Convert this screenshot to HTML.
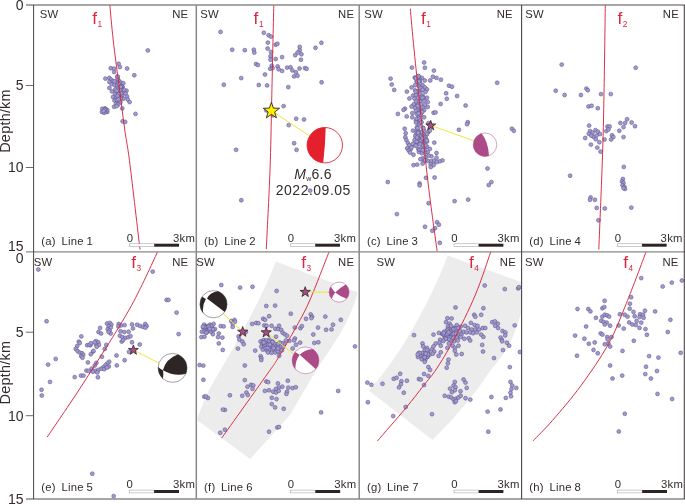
<!DOCTYPE html>
<html><head><meta charset="utf-8"><title>Seismic profiles</title>
<style>html,body{margin:0;padding:0;background:#fff}svg{display:block}</style></head>
<body>
<svg width="685" height="504" viewBox="0 0 685 504" font-family="'Liberation Sans', sans-serif">
<rect width="685" height="504" fill="#fff"/>
<defs>
<clipPath id="cp00"><rect x="33.6" y="5.0" width="162.70000000000002" height="246.95"/></clipPath>
<clipPath id="cp01"><rect x="196.3" y="5.0" width="162.89999999999998" height="246.95"/></clipPath>
<clipPath id="cp02"><rect x="359.2" y="5.0" width="162.40000000000003" height="246.95"/></clipPath>
<clipPath id="cp03"><rect x="521.6" y="5.0" width="162.69999999999993" height="246.95"/></clipPath>
<clipPath id="cp10"><rect x="33.6" y="251.95" width="162.70000000000002" height="247.05"/></clipPath>
<clipPath id="cp11"><rect x="196.3" y="251.95" width="162.89999999999998" height="247.05"/></clipPath>
<clipPath id="cp12"><rect x="359.2" y="251.95" width="162.40000000000003" height="247.05"/></clipPath>
<clipPath id="cp13"><rect x="521.6" y="251.95" width="162.69999999999993" height="247.05"/></clipPath>
</defs>
<path clip-path="url(#cp11)" d="M275.7,261.5 L357.8,292.2 Q352,314 340,334 Q330,350 317.5,368 L290,415 L250.2,459 L197,420 Q203,402 209,390 Q218,374 227,359 Q246,326 260,297.5 Q269,280 275.7,261.5 Z" fill="#ececec"/>
<path clip-path="url(#cp12)" d="M447.6,255.6 L525,283.5 L525,300 Q518,325 510,343.5 Q500,360 491.5,369 Q468,405 432.5,440.1 L369.1,390.8 Q395,360 410,333.2 Q422,313 430.6,295 Q441,274 447.6,255.6 Z" fill="#ececec"/>
<g fill="#a39ad2" stroke="#5a5384" stroke-width="0.55">
<circle cx="147.8" cy="50.4" r="1.95"/>
<circle cx="118.6" cy="63.8" r="1.95"/>
<circle cx="119.9" cy="67.0" r="1.95"/>
<circle cx="127.1" cy="68.5" r="1.95"/>
<circle cx="110.8" cy="68.2" r="1.95"/>
<circle cx="114.1" cy="68.6" r="1.95"/>
<circle cx="114.1" cy="72.0" r="1.95"/>
<circle cx="134.3" cy="75.2" r="1.95"/>
<circle cx="105.4" cy="78.6" r="1.95"/>
<circle cx="109.4" cy="77.9" r="1.95"/>
<circle cx="111.1" cy="79.6" r="1.95"/>
<circle cx="109.4" cy="81.9" r="1.95"/>
<circle cx="113.0" cy="81.1" r="1.95"/>
<circle cx="115.2" cy="81.9" r="1.95"/>
<circle cx="118.6" cy="80.4" r="1.95"/>
<circle cx="121.1" cy="82.6" r="1.95"/>
<circle cx="123.3" cy="83.3" r="1.95"/>
<circle cx="111.6" cy="84.1" r="1.95"/>
<circle cx="114.5" cy="84.8" r="1.95"/>
<circle cx="117.4" cy="85.5" r="1.95"/>
<circle cx="120.4" cy="86.3" r="1.95"/>
<circle cx="109.4" cy="88.0" r="1.95"/>
<circle cx="116.7" cy="88.5" r="1.95"/>
<circle cx="121.9" cy="89.2" r="1.95"/>
<circle cx="126.5" cy="90.7" r="1.95"/>
<circle cx="112.0" cy="91.4" r="1.95"/>
<circle cx="116.7" cy="91.7" r="1.95"/>
<circle cx="119.6" cy="92.1" r="1.95"/>
<circle cx="123.3" cy="92.9" r="1.95"/>
<circle cx="125.5" cy="93.6" r="1.95"/>
<circle cx="115.2" cy="94.3" r="1.95"/>
<circle cx="118.2" cy="95.1" r="1.95"/>
<circle cx="121.9" cy="95.8" r="1.95"/>
<circle cx="127.0" cy="96.5" r="1.95"/>
<circle cx="113.0" cy="97.0" r="1.95"/>
<circle cx="116.0" cy="98.0" r="1.95"/>
<circle cx="119.6" cy="98.7" r="1.95"/>
<circle cx="123.3" cy="98.7" r="1.95"/>
<circle cx="127.7" cy="99.5" r="1.95"/>
<circle cx="114.5" cy="100.5" r="1.95"/>
<circle cx="117.4" cy="101.7" r="1.95"/>
<circle cx="120.4" cy="102.4" r="1.95"/>
<circle cx="129.6" cy="102.1" r="1.95"/>
<circle cx="116.0" cy="103.9" r="1.95"/>
<circle cx="118.2" cy="104.6" r="1.95"/>
<circle cx="114.1" cy="106.8" r="1.95"/>
<circle cx="116.7" cy="106.1" r="1.95"/>
<circle cx="118.9" cy="84.1" r="1.95"/>
<circle cx="122.6" cy="87.0" r="1.95"/>
<circle cx="124.1" cy="89.9" r="1.95"/>
<circle cx="121.1" cy="93.2" r="1.95"/>
<circle cx="118.9" cy="97.0" r="1.95"/>
<circle cx="116.7" cy="99.9" r="1.95"/>
<circle cx="105.0" cy="108.4" r="1.95"/>
<circle cx="103.5" cy="109.8" r="1.95"/>
<circle cx="106.4" cy="109.8" r="1.95"/>
<circle cx="102.0" cy="112.0" r="1.95"/>
<circle cx="104.2" cy="112.8" r="1.95"/>
<circle cx="107.2" cy="112.0" r="1.95"/>
<circle cx="105.7" cy="111.3" r="1.95"/>
<circle cx="122.3" cy="108.4" r="1.95"/>
<circle cx="135.5" cy="113.9" r="1.95"/>
<circle cx="122.6" cy="121.3" r="1.95"/>
<circle cx="125.2" cy="121.9" r="1.95"/>
<circle cx="220.5" cy="31.9" r="1.95"/>
<circle cx="232.2" cy="49.7" r="1.95"/>
<circle cx="244.8" cy="50.2" r="1.95"/>
<circle cx="253.8" cy="49.7" r="1.95"/>
<circle cx="254.3" cy="52.6" r="1.95"/>
<circle cx="263.8" cy="32.8" r="1.95"/>
<circle cx="268.6" cy="35.2" r="1.95"/>
<circle cx="271.0" cy="36.6" r="1.95"/>
<circle cx="267.9" cy="42.6" r="1.95"/>
<circle cx="275.7" cy="44.7" r="1.95"/>
<circle cx="277.4" cy="43.8" r="1.95"/>
<circle cx="267.6" cy="48.5" r="1.95"/>
<circle cx="271.0" cy="51.9" r="1.95"/>
<circle cx="270.5" cy="56.2" r="1.95"/>
<circle cx="270.5" cy="59.7" r="1.95"/>
<circle cx="275.7" cy="59.0" r="1.95"/>
<circle cx="282.1" cy="57.1" r="1.95"/>
<circle cx="256.0" cy="64.0" r="1.95"/>
<circle cx="257.9" cy="65.0" r="1.95"/>
<circle cx="271.7" cy="65.7" r="1.95"/>
<circle cx="270.2" cy="68.8" r="1.95"/>
<circle cx="272.6" cy="68.1" r="1.95"/>
<circle cx="277.6" cy="66.4" r="1.95"/>
<circle cx="278.6" cy="69.2" r="1.95"/>
<circle cx="282.1" cy="70.9" r="1.95"/>
<circle cx="287.1" cy="67.6" r="1.95"/>
<circle cx="290.5" cy="67.3" r="1.95"/>
<circle cx="292.4" cy="70.4" r="1.95"/>
<circle cx="295.9" cy="72.3" r="1.95"/>
<circle cx="299.5" cy="68.5" r="1.95"/>
<circle cx="305.0" cy="68.1" r="1.95"/>
<circle cx="306.6" cy="68.8" r="1.95"/>
<circle cx="265.0" cy="74.5" r="1.95"/>
<circle cx="294.0" cy="76.4" r="1.95"/>
<circle cx="297.6" cy="75.7" r="1.95"/>
<circle cx="241.2" cy="78.1" r="1.95"/>
<circle cx="223.8" cy="84.7" r="1.95"/>
<circle cx="258.8" cy="85.0" r="1.95"/>
<circle cx="267.1" cy="85.4" r="1.95"/>
<circle cx="288.3" cy="87.1" r="1.95"/>
<circle cx="321.6" cy="82.3" r="1.95"/>
<circle cx="321.4" cy="42.8" r="1.95"/>
<circle cx="315.5" cy="47.8" r="1.95"/>
<circle cx="299.7" cy="46.9" r="1.95"/>
<circle cx="299.7" cy="50.2" r="1.95"/>
<circle cx="297.6" cy="52.6" r="1.95"/>
<circle cx="295.2" cy="55.2" r="1.95"/>
<circle cx="301.4" cy="54.3" r="1.95"/>
<circle cx="300.9" cy="59.7" r="1.95"/>
<circle cx="283.6" cy="106.1" r="1.95"/>
<circle cx="266.4" cy="110.4" r="1.95"/>
<circle cx="296.2" cy="118.7" r="1.95"/>
<circle cx="304.0" cy="119.5" r="1.95"/>
<circle cx="288.7" cy="125.1" r="1.95"/>
<circle cx="294.1" cy="143.2" r="1.95"/>
<circle cx="296.5" cy="149.8" r="1.95"/>
<circle cx="236.1" cy="149.8" r="1.95"/>
<circle cx="241.3" cy="200.2" r="1.95"/>
<circle cx="310.1" cy="190.6" r="1.95"/>
<circle cx="273.1" cy="115.3" r="1.95"/>
<circle cx="424.1" cy="62.5" r="1.95"/>
<circle cx="411.9" cy="67.6" r="1.95"/>
<circle cx="424.9" cy="67.8" r="1.95"/>
<circle cx="433.9" cy="70.6" r="1.95"/>
<circle cx="390.6" cy="78.6" r="1.95"/>
<circle cx="391.7" cy="84.5" r="1.95"/>
<circle cx="394.2" cy="89.9" r="1.95"/>
<circle cx="414.8" cy="77.6" r="1.95"/>
<circle cx="418.5" cy="76.1" r="1.95"/>
<circle cx="421.9" cy="77.9" r="1.95"/>
<circle cx="419.6" cy="79.4" r="1.95"/>
<circle cx="424.8" cy="80.5" r="1.95"/>
<circle cx="430.2" cy="80.5" r="1.95"/>
<circle cx="432.9" cy="76.7" r="1.95"/>
<circle cx="436.5" cy="77.9" r="1.95"/>
<circle cx="440.9" cy="79.7" r="1.95"/>
<circle cx="416.7" cy="81.6" r="1.95"/>
<circle cx="419.9" cy="83.0" r="1.95"/>
<circle cx="415.2" cy="85.2" r="1.95"/>
<circle cx="418.9" cy="86.0" r="1.95"/>
<circle cx="422.6" cy="85.2" r="1.95"/>
<circle cx="424.8" cy="87.4" r="1.95"/>
<circle cx="411.6" cy="87.4" r="1.95"/>
<circle cx="406.9" cy="91.6" r="1.95"/>
<circle cx="427.0" cy="89.4" r="1.95"/>
<circle cx="415.2" cy="90.4" r="1.95"/>
<circle cx="418.5" cy="91.1" r="1.95"/>
<circle cx="421.9" cy="90.4" r="1.95"/>
<circle cx="425.5" cy="91.9" r="1.95"/>
<circle cx="449.0" cy="85.7" r="1.95"/>
<circle cx="452.0" cy="86.7" r="1.95"/>
<circle cx="446.1" cy="93.3" r="1.95"/>
<circle cx="457.1" cy="96.0" r="1.95"/>
<circle cx="446.8" cy="98.8" r="1.95"/>
<circle cx="440.6" cy="104.0" r="1.95"/>
<circle cx="465.6" cy="105.5" r="1.95"/>
<circle cx="413.0" cy="95.5" r="1.95"/>
<circle cx="416.0" cy="94.8" r="1.95"/>
<circle cx="419.6" cy="94.1" r="1.95"/>
<circle cx="422.6" cy="95.5" r="1.95"/>
<circle cx="409.4" cy="98.5" r="1.95"/>
<circle cx="414.5" cy="98.5" r="1.95"/>
<circle cx="418.2" cy="97.7" r="1.95"/>
<circle cx="421.9" cy="98.5" r="1.95"/>
<circle cx="427.0" cy="97.7" r="1.95"/>
<circle cx="416.0" cy="101.4" r="1.95"/>
<circle cx="419.6" cy="101.4" r="1.95"/>
<circle cx="424.1" cy="100.7" r="1.95"/>
<circle cx="427.7" cy="102.1" r="1.95"/>
<circle cx="413.8" cy="104.3" r="1.95"/>
<circle cx="417.4" cy="105.1" r="1.95"/>
<circle cx="421.1" cy="104.3" r="1.95"/>
<circle cx="424.8" cy="105.1" r="1.95"/>
<circle cx="411.6" cy="106.5" r="1.95"/>
<circle cx="415.2" cy="108.0" r="1.95"/>
<circle cx="418.9" cy="107.3" r="1.95"/>
<circle cx="423.3" cy="108.0" r="1.95"/>
<circle cx="427.7" cy="107.0" r="1.95"/>
<circle cx="405.0" cy="108.7" r="1.95"/>
<circle cx="403.5" cy="109.9" r="1.95"/>
<circle cx="416.0" cy="110.9" r="1.95"/>
<circle cx="419.6" cy="110.9" r="1.95"/>
<circle cx="424.1" cy="110.2" r="1.95"/>
<circle cx="397.9" cy="113.9" r="1.95"/>
<circle cx="412.3" cy="113.1" r="1.95"/>
<circle cx="416.7" cy="113.9" r="1.95"/>
<circle cx="421.1" cy="113.1" r="1.95"/>
<circle cx="433.6" cy="112.8" r="1.95"/>
<circle cx="435.5" cy="112.4" r="1.95"/>
<circle cx="406.7" cy="116.4" r="1.95"/>
<circle cx="412.3" cy="117.3" r="1.95"/>
<circle cx="418.2" cy="117.5" r="1.95"/>
<circle cx="424.1" cy="117.3" r="1.95"/>
<circle cx="416.0" cy="120.5" r="1.95"/>
<circle cx="419.6" cy="121.2" r="1.95"/>
<circle cx="467.8" cy="122.2" r="1.95"/>
<circle cx="428.5" cy="123.1" r="1.95"/>
<circle cx="467.1" cy="124.2" r="1.95"/>
<circle cx="458.9" cy="129.8" r="1.95"/>
<circle cx="404.7" cy="128.8" r="1.95"/>
<circle cx="405.7" cy="133.2" r="1.95"/>
<circle cx="405.3" cy="137.2" r="1.95"/>
<circle cx="406.4" cy="140.1" r="1.95"/>
<circle cx="407.9" cy="143.0" r="1.95"/>
<circle cx="409.4" cy="145.2" r="1.95"/>
<circle cx="407.2" cy="148.2" r="1.95"/>
<circle cx="408.6" cy="150.4" r="1.95"/>
<circle cx="410.8" cy="148.9" r="1.95"/>
<circle cx="410.1" cy="152.6" r="1.95"/>
<circle cx="413.5" cy="154.8" r="1.95"/>
<circle cx="413.0" cy="130.6" r="1.95"/>
<circle cx="416.0" cy="134.2" r="1.95"/>
<circle cx="414.5" cy="140.1" r="1.95"/>
<circle cx="415.2" cy="145.2" r="1.95"/>
<circle cx="411.6" cy="147.4" r="1.95"/>
<circle cx="416.7" cy="118.8" r="1.95"/>
<circle cx="416.0" cy="122.5" r="1.95"/>
<circle cx="418.9" cy="124.7" r="1.95"/>
<circle cx="417.4" cy="129.1" r="1.95"/>
<circle cx="419.6" cy="132.0" r="1.95"/>
<circle cx="421.1" cy="136.4" r="1.95"/>
<circle cx="418.9" cy="138.6" r="1.95"/>
<circle cx="421.9" cy="140.1" r="1.95"/>
<circle cx="418.9" cy="143.8" r="1.95"/>
<circle cx="421.9" cy="144.5" r="1.95"/>
<circle cx="418.2" cy="148.9" r="1.95"/>
<circle cx="421.1" cy="149.6" r="1.95"/>
<circle cx="424.1" cy="148.2" r="1.95"/>
<circle cx="427.0" cy="146.7" r="1.95"/>
<circle cx="429.9" cy="148.9" r="1.95"/>
<circle cx="427.7" cy="151.9" r="1.95"/>
<circle cx="424.8" cy="152.6" r="1.95"/>
<circle cx="421.9" cy="153.3" r="1.95"/>
<circle cx="418.9" cy="151.9" r="1.95"/>
<circle cx="428.5" cy="132.0" r="1.95"/>
<circle cx="429.9" cy="130.6" r="1.95"/>
<circle cx="427.0" cy="134.2" r="1.95"/>
<circle cx="425.5" cy="137.2" r="1.95"/>
<circle cx="424.1" cy="141.6" r="1.95"/>
<circle cx="427.0" cy="141.6" r="1.95"/>
<circle cx="434.3" cy="142.6" r="1.95"/>
<circle cx="436.5" cy="153.0" r="1.95"/>
<circle cx="431.4" cy="156.3" r="1.95"/>
<circle cx="428.5" cy="155.5" r="1.95"/>
<circle cx="425.5" cy="157.0" r="1.95"/>
<circle cx="422.6" cy="158.5" r="1.95"/>
<circle cx="420.4" cy="159.2" r="1.95"/>
<circle cx="436.5" cy="157.7" r="1.95"/>
<circle cx="442.4" cy="160.4" r="1.95"/>
<circle cx="439.5" cy="161.4" r="1.95"/>
<circle cx="436.5" cy="162.1" r="1.95"/>
<circle cx="433.6" cy="160.7" r="1.95"/>
<circle cx="430.7" cy="161.4" r="1.95"/>
<circle cx="427.7" cy="160.7" r="1.95"/>
<circle cx="424.1" cy="161.4" r="1.95"/>
<circle cx="422.6" cy="163.6" r="1.95"/>
<circle cx="430.7" cy="164.3" r="1.95"/>
<circle cx="433.6" cy="165.1" r="1.95"/>
<circle cx="430.7" cy="167.0" r="1.95"/>
<circle cx="413.5" cy="165.1" r="1.95"/>
<circle cx="417.2" cy="164.6" r="1.95"/>
<circle cx="426.0" cy="177.8" r="1.95"/>
<circle cx="434.6" cy="177.5" r="1.95"/>
<circle cx="387.8" cy="182.0" r="1.95"/>
<circle cx="419.6" cy="183.4" r="1.95"/>
<circle cx="422.6" cy="127.6" r="1.95"/>
<circle cx="424.1" cy="130.6" r="1.95"/>
<circle cx="423.3" cy="134.2" r="1.95"/>
<circle cx="424.1" cy="137.9" r="1.95"/>
<circle cx="425.5" cy="145.2" r="1.95"/>
<circle cx="416.7" cy="141.6" r="1.95"/>
<circle cx="413.0" cy="143.8" r="1.95"/>
<circle cx="419.6" cy="185.4" r="1.95"/>
<circle cx="454.6" cy="201.1" r="1.95"/>
<circle cx="468.2" cy="199.6" r="1.95"/>
<circle cx="428.6" cy="203.2" r="1.95"/>
<circle cx="396.9" cy="214.1" r="1.95"/>
<circle cx="425.0" cy="226.8" r="1.95"/>
<circle cx="437.1" cy="222.2" r="1.95"/>
<circle cx="438.9" cy="224.7" r="1.95"/>
<circle cx="435.0" cy="228.3" r="1.95"/>
<circle cx="432.3" cy="230.7" r="1.95"/>
<circle cx="439.8" cy="242.8" r="1.95"/>
<circle cx="487.5" cy="168.5" r="1.95"/>
<circle cx="491.4" cy="182.1" r="1.95"/>
<circle cx="488.7" cy="185.1" r="1.95"/>
<circle cx="511.9" cy="128.7" r="1.95"/>
<circle cx="513.8" cy="130.8" r="1.95"/>
<circle cx="419.3" cy="149.8" r="1.95"/>
<circle cx="416.9" cy="127.2" r="1.95"/>
<circle cx="419.9" cy="122.6" r="1.95"/>
<circle cx="415.3" cy="136.2" r="1.95"/>
<circle cx="497.2" cy="82.8" r="1.95"/>
<circle cx="561.7" cy="64.6" r="1.95"/>
<circle cx="635.7" cy="67.7" r="1.95"/>
<circle cx="555.7" cy="90.7" r="1.95"/>
<circle cx="564.6" cy="95.0" r="1.95"/>
<circle cx="580.9" cy="95.0" r="1.95"/>
<circle cx="586.4" cy="88.6" r="1.95"/>
<circle cx="587.8" cy="90.2" r="1.95"/>
<circle cx="601.0" cy="94.1" r="1.95"/>
<circle cx="610.8" cy="94.1" r="1.95"/>
<circle cx="588.5" cy="106.5" r="1.95"/>
<circle cx="591.6" cy="105.8" r="1.95"/>
<circle cx="597.8" cy="108.2" r="1.95"/>
<circle cx="627.1" cy="119.2" r="1.95"/>
<circle cx="620.4" cy="123.0" r="1.95"/>
<circle cx="625.1" cy="123.0" r="1.95"/>
<circle cx="631.6" cy="122.5" r="1.95"/>
<circle cx="589.1" cy="125.6" r="1.95"/>
<circle cx="590.0" cy="131.1" r="1.95"/>
<circle cx="588.8" cy="133.8" r="1.95"/>
<circle cx="592.5" cy="132.6" r="1.95"/>
<circle cx="595.5" cy="130.1" r="1.95"/>
<circle cx="597.9" cy="131.7" r="1.95"/>
<circle cx="600.0" cy="134.1" r="1.95"/>
<circle cx="596.4" cy="135.6" r="1.95"/>
<circle cx="593.4" cy="136.8" r="1.95"/>
<circle cx="591.2" cy="135.6" r="1.95"/>
<circle cx="585.2" cy="138.0" r="1.95"/>
<circle cx="595.8" cy="139.2" r="1.95"/>
<circle cx="599.4" cy="142.2" r="1.95"/>
<circle cx="590.9" cy="144.6" r="1.95"/>
<circle cx="597.3" cy="147.6" r="1.95"/>
<circle cx="600.6" cy="151.6" r="1.95"/>
<circle cx="604.5" cy="139.5" r="1.95"/>
<circle cx="606.3" cy="131.1" r="1.95"/>
<circle cx="607.5" cy="126.5" r="1.95"/>
<circle cx="609.6" cy="126.5" r="1.95"/>
<circle cx="608.4" cy="129.5" r="1.95"/>
<circle cx="612.0" cy="135.3" r="1.95"/>
<circle cx="613.3" cy="137.1" r="1.95"/>
<circle cx="611.1" cy="139.5" r="1.95"/>
<circle cx="635.0" cy="126.2" r="1.95"/>
<circle cx="623.5" cy="127.1" r="1.95"/>
<circle cx="619.3" cy="130.8" r="1.95"/>
<circle cx="623.5" cy="137.1" r="1.95"/>
<circle cx="623.8" cy="166.9" r="1.95"/>
<circle cx="570.1" cy="175.7" r="1.95"/>
<circle cx="622.9" cy="179.0" r="1.95"/>
<circle cx="622.0" cy="181.4" r="1.95"/>
<circle cx="623.5" cy="182.9" r="1.95"/>
<circle cx="622.6" cy="185.3" r="1.95"/>
<circle cx="624.4" cy="186.8" r="1.95"/>
<circle cx="625.0" cy="188.9" r="1.95"/>
<circle cx="623.5" cy="188.0" r="1.95"/>
<circle cx="590.6" cy="197.4" r="1.95"/>
<circle cx="590.0" cy="199.8" r="1.95"/>
<circle cx="594.9" cy="199.8" r="1.95"/>
<circle cx="596.7" cy="207.9" r="1.95"/>
<circle cx="604.8" cy="208.5" r="1.95"/>
<circle cx="631.3" cy="207.6" r="1.95"/>
<circle cx="598.5" cy="220.3" r="1.95"/>
<circle cx="107.0" cy="323.5" r="1.95"/>
<circle cx="109.9" cy="322.9" r="1.95"/>
<circle cx="111.4" cy="324.7" r="1.95"/>
<circle cx="108.8" cy="326.2" r="1.95"/>
<circle cx="110.7" cy="327.6" r="1.95"/>
<circle cx="107.7" cy="329.1" r="1.95"/>
<circle cx="109.6" cy="330.6" r="1.95"/>
<circle cx="110.7" cy="333.5" r="1.95"/>
<circle cx="108.5" cy="332.0" r="1.95"/>
<circle cx="100.1" cy="327.9" r="1.95"/>
<circle cx="98.5" cy="332.0" r="1.95"/>
<circle cx="101.1" cy="333.5" r="1.95"/>
<circle cx="118.7" cy="324.0" r="1.95"/>
<circle cx="120.9" cy="325.4" r="1.95"/>
<circle cx="124.6" cy="325.1" r="1.95"/>
<circle cx="118.4" cy="326.4" r="1.95"/>
<circle cx="120.5" cy="331.3" r="1.95"/>
<circle cx="124.3" cy="332.0" r="1.95"/>
<circle cx="128.6" cy="331.7" r="1.95"/>
<circle cx="119.8" cy="335.7" r="1.95"/>
<circle cx="122.4" cy="337.2" r="1.95"/>
<circle cx="125.3" cy="337.9" r="1.95"/>
<circle cx="128.3" cy="337.2" r="1.95"/>
<circle cx="130.5" cy="336.1" r="1.95"/>
<circle cx="121.7" cy="341.6" r="1.95"/>
<circle cx="123.1" cy="340.1" r="1.95"/>
<circle cx="132.0" cy="324.4" r="1.95"/>
<circle cx="133.0" cy="328.4" r="1.95"/>
<circle cx="137.1" cy="324.7" r="1.95"/>
<circle cx="140.0" cy="325.9" r="1.95"/>
<circle cx="143.0" cy="326.9" r="1.95"/>
<circle cx="145.2" cy="324.0" r="1.95"/>
<circle cx="146.6" cy="325.9" r="1.95"/>
<circle cx="145.5" cy="327.6" r="1.95"/>
<circle cx="132.0" cy="342.3" r="1.95"/>
<circle cx="139.7" cy="344.5" r="1.95"/>
<circle cx="129.0" cy="351.9" r="1.95"/>
<circle cx="81.3" cy="336.4" r="1.95"/>
<circle cx="78.8" cy="341.6" r="1.95"/>
<circle cx="79.8" cy="343.0" r="1.95"/>
<circle cx="77.2" cy="346.0" r="1.95"/>
<circle cx="75.7" cy="348.9" r="1.95"/>
<circle cx="77.6" cy="351.1" r="1.95"/>
<circle cx="79.8" cy="352.6" r="1.95"/>
<circle cx="82.0" cy="353.3" r="1.95"/>
<circle cx="83.2" cy="354.8" r="1.95"/>
<circle cx="81.3" cy="356.3" r="1.95"/>
<circle cx="82.5" cy="357.7" r="1.95"/>
<circle cx="87.2" cy="345.2" r="1.95"/>
<circle cx="90.4" cy="345.2" r="1.95"/>
<circle cx="96.0" cy="341.1" r="1.95"/>
<circle cx="98.2" cy="342.3" r="1.95"/>
<circle cx="96.0" cy="344.5" r="1.95"/>
<circle cx="98.9" cy="344.9" r="1.95"/>
<circle cx="96.7" cy="346.7" r="1.95"/>
<circle cx="106.3" cy="344.9" r="1.95"/>
<circle cx="104.8" cy="348.9" r="1.95"/>
<circle cx="93.0" cy="351.6" r="1.95"/>
<circle cx="90.8" cy="354.3" r="1.95"/>
<circle cx="101.9" cy="356.7" r="1.95"/>
<circle cx="116.5" cy="355.5" r="1.95"/>
<circle cx="124.6" cy="360.2" r="1.95"/>
<circle cx="87.9" cy="362.4" r="1.95"/>
<circle cx="96.4" cy="362.9" r="1.95"/>
<circle cx="94.8" cy="365.5" r="1.95"/>
<circle cx="109.2" cy="361.7" r="1.95"/>
<circle cx="107.3" cy="363.6" r="1.95"/>
<circle cx="105.5" cy="365.1" r="1.95"/>
<circle cx="108.8" cy="366.5" r="1.95"/>
<circle cx="103.3" cy="367.3" r="1.95"/>
<circle cx="101.1" cy="368.7" r="1.95"/>
<circle cx="104.1" cy="369.2" r="1.95"/>
<circle cx="98.2" cy="369.9" r="1.95"/>
<circle cx="95.2" cy="370.9" r="1.95"/>
<circle cx="91.6" cy="368.7" r="1.95"/>
<circle cx="86.4" cy="370.6" r="1.95"/>
<circle cx="88.6" cy="370.9" r="1.95"/>
<circle cx="93.0" cy="371.7" r="1.95"/>
<circle cx="97.4" cy="372.4" r="1.95"/>
<circle cx="81.0" cy="375.6" r="1.95"/>
<circle cx="83.5" cy="375.6" r="1.95"/>
<circle cx="74.7" cy="377.1" r="1.95"/>
<circle cx="97.9" cy="377.3" r="1.95"/>
<circle cx="116.8" cy="365.4" r="1.95"/>
<circle cx="107.0" cy="367.6" r="1.95"/>
<circle cx="55.7" cy="358.9" r="1.95"/>
<circle cx="48.1" cy="364.6" r="1.95"/>
<circle cx="50.0" cy="381.9" r="1.95"/>
<circle cx="41.5" cy="389.8" r="1.95"/>
<circle cx="41.8" cy="395.5" r="1.95"/>
<circle cx="92.3" cy="473.7" r="1.95"/>
<circle cx="113.7" cy="496.1" r="1.95"/>
<circle cx="38.3" cy="269.5" r="1.95"/>
<circle cx="152.7" cy="271.6" r="1.95"/>
<circle cx="166.6" cy="299.9" r="1.95"/>
<circle cx="168.5" cy="299.9" r="1.95"/>
<circle cx="176.6" cy="312.6" r="1.95"/>
<circle cx="178.6" cy="334.1" r="1.95"/>
<circle cx="46.6" cy="321.2" r="1.95"/>
<circle cx="276.6" cy="290.9" r="1.95"/>
<circle cx="266.3" cy="306.0" r="1.95"/>
<circle cx="275.1" cy="305.6" r="1.95"/>
<circle cx="269.1" cy="316.2" r="1.95"/>
<circle cx="290.8" cy="313.7" r="1.95"/>
<circle cx="310.7" cy="314.4" r="1.95"/>
<circle cx="312.1" cy="316.6" r="1.95"/>
<circle cx="306.0" cy="318.8" r="1.95"/>
<circle cx="311.4" cy="318.1" r="1.95"/>
<circle cx="325.3" cy="316.6" r="1.95"/>
<circle cx="340.8" cy="319.8" r="1.95"/>
<circle cx="333.0" cy="324.7" r="1.95"/>
<circle cx="263.2" cy="318.8" r="1.95"/>
<circle cx="265.1" cy="319.8" r="1.95"/>
<circle cx="240.1" cy="287.6" r="1.95"/>
<circle cx="252.5" cy="286.8" r="1.95"/>
<circle cx="221.3" cy="285.0" r="1.95"/>
<circle cx="252.2" cy="323.9" r="1.95"/>
<circle cx="256.2" cy="322.9" r="1.95"/>
<circle cx="258.4" cy="323.2" r="1.95"/>
<circle cx="264.3" cy="325.4" r="1.95"/>
<circle cx="266.5" cy="325.8" r="1.95"/>
<circle cx="271.6" cy="325.8" r="1.95"/>
<circle cx="279.0" cy="325.8" r="1.95"/>
<circle cx="275.3" cy="328.8" r="1.95"/>
<circle cx="278.2" cy="329.1" r="1.95"/>
<circle cx="281.2" cy="329.8" r="1.95"/>
<circle cx="282.6" cy="332.7" r="1.95"/>
<circle cx="284.8" cy="334.2" r="1.95"/>
<circle cx="287.0" cy="335.7" r="1.95"/>
<circle cx="276.0" cy="336.7" r="1.95"/>
<circle cx="285.9" cy="340.5" r="1.95"/>
<circle cx="204.1" cy="324.6" r="1.95"/>
<circle cx="207.0" cy="326.1" r="1.95"/>
<circle cx="210.0" cy="324.6" r="1.95"/>
<circle cx="213.6" cy="323.9" r="1.95"/>
<circle cx="203.3" cy="327.6" r="1.95"/>
<circle cx="206.3" cy="329.1" r="1.95"/>
<circle cx="209.2" cy="328.3" r="1.95"/>
<circle cx="212.2" cy="327.6" r="1.95"/>
<circle cx="215.1" cy="329.1" r="1.95"/>
<circle cx="201.9" cy="331.7" r="1.95"/>
<circle cx="204.8" cy="331.7" r="1.95"/>
<circle cx="210.7" cy="331.3" r="1.95"/>
<circle cx="212.9" cy="334.2" r="1.95"/>
<circle cx="218.8" cy="333.5" r="1.95"/>
<circle cx="201.4" cy="337.1" r="1.95"/>
<circle cx="204.5" cy="336.7" r="1.95"/>
<circle cx="218.0" cy="337.1" r="1.95"/>
<circle cx="222.4" cy="337.6" r="1.95"/>
<circle cx="220.7" cy="326.1" r="1.95"/>
<circle cx="223.6" cy="326.4" r="1.95"/>
<circle cx="231.2" cy="321.0" r="1.95"/>
<circle cx="234.5" cy="319.9" r="1.95"/>
<circle cx="234.9" cy="321.7" r="1.95"/>
<circle cx="232.7" cy="323.9" r="1.95"/>
<circle cx="232.7" cy="326.9" r="1.95"/>
<circle cx="238.6" cy="336.4" r="1.95"/>
<circle cx="239.3" cy="339.6" r="1.95"/>
<circle cx="242.3" cy="341.5" r="1.95"/>
<circle cx="243.7" cy="344.2" r="1.95"/>
<circle cx="218.8" cy="343.4" r="1.95"/>
<circle cx="222.7" cy="349.9" r="1.95"/>
<circle cx="237.9" cy="348.6" r="1.95"/>
<circle cx="255.2" cy="350.6" r="1.95"/>
<circle cx="245.9" cy="332.0" r="1.95"/>
<circle cx="260.6" cy="341.5" r="1.95"/>
<circle cx="263.5" cy="340.1" r="1.95"/>
<circle cx="266.5" cy="340.8" r="1.95"/>
<circle cx="269.4" cy="339.6" r="1.95"/>
<circle cx="272.4" cy="341.5" r="1.95"/>
<circle cx="262.1" cy="343.7" r="1.95"/>
<circle cx="265.0" cy="343.0" r="1.95"/>
<circle cx="268.0" cy="343.7" r="1.95"/>
<circle cx="270.9" cy="344.5" r="1.95"/>
<circle cx="274.6" cy="343.7" r="1.95"/>
<circle cx="261.3" cy="346.7" r="1.95"/>
<circle cx="264.3" cy="345.9" r="1.95"/>
<circle cx="267.2" cy="346.7" r="1.95"/>
<circle cx="270.2" cy="347.4" r="1.95"/>
<circle cx="273.1" cy="346.7" r="1.95"/>
<circle cx="276.8" cy="345.9" r="1.95"/>
<circle cx="279.7" cy="345.2" r="1.95"/>
<circle cx="262.8" cy="349.6" r="1.95"/>
<circle cx="266.5" cy="350.3" r="1.95"/>
<circle cx="269.4" cy="349.6" r="1.95"/>
<circle cx="272.4" cy="350.3" r="1.95"/>
<circle cx="276.0" cy="349.6" r="1.95"/>
<circle cx="279.7" cy="348.9" r="1.95"/>
<circle cx="282.6" cy="347.4" r="1.95"/>
<circle cx="268.0" cy="352.5" r="1.95"/>
<circle cx="271.6" cy="352.8" r="1.95"/>
<circle cx="275.3" cy="352.5" r="1.95"/>
<circle cx="279.0" cy="351.8" r="1.95"/>
<circle cx="260.6" cy="356.2" r="1.95"/>
<circle cx="261.3" cy="358.1" r="1.95"/>
<circle cx="266.5" cy="342.3" r="1.95"/>
<circle cx="268.7" cy="341.5" r="1.95"/>
<circle cx="265.0" cy="344.5" r="1.95"/>
<circle cx="284.1" cy="343.7" r="1.95"/>
<circle cx="281.9" cy="350.3" r="1.95"/>
<circle cx="207.7" cy="327.6" r="1.95"/>
<circle cx="210.7" cy="329.1" r="1.95"/>
<circle cx="205.5" cy="326.9" r="1.95"/>
<circle cx="208.5" cy="330.5" r="1.95"/>
<circle cx="211.4" cy="326.1" r="1.95"/>
<circle cx="269.4" cy="345.2" r="1.95"/>
<circle cx="265.8" cy="348.1" r="1.95"/>
<circle cx="263.5" cy="342.3" r="1.95"/>
<circle cx="273.8" cy="348.1" r="1.95"/>
<circle cx="331.5" cy="329.4" r="1.95"/>
<circle cx="326.1" cy="329.8" r="1.95"/>
<circle cx="318.0" cy="327.6" r="1.95"/>
<circle cx="313.3" cy="334.5" r="1.95"/>
<circle cx="314.3" cy="342.9" r="1.95"/>
<circle cx="318.3" cy="342.3" r="1.95"/>
<circle cx="355.0" cy="346.4" r="1.95"/>
<circle cx="294.8" cy="327.6" r="1.95"/>
<circle cx="300.4" cy="328.2" r="1.95"/>
<circle cx="301.9" cy="326.1" r="1.95"/>
<circle cx="294.9" cy="338.5" r="1.95"/>
<circle cx="296.0" cy="344.8" r="1.95"/>
<circle cx="300.1" cy="342.6" r="1.95"/>
<circle cx="292.6" cy="348.5" r="1.95"/>
<circle cx="294.1" cy="340.4" r="1.95"/>
<circle cx="289.4" cy="340.8" r="1.95"/>
<circle cx="282.0" cy="343.3" r="1.95"/>
<circle cx="279.1" cy="355.8" r="1.95"/>
<circle cx="199.6" cy="365.0" r="1.95"/>
<circle cx="244.8" cy="365.5" r="1.95"/>
<circle cx="261.3" cy="360.0" r="1.95"/>
<circle cx="203.4" cy="379.8" r="1.95"/>
<circle cx="244.8" cy="380.1" r="1.95"/>
<circle cx="251.1" cy="384.8" r="1.95"/>
<circle cx="253.3" cy="385.4" r="1.95"/>
<circle cx="247.5" cy="386.7" r="1.95"/>
<circle cx="252.5" cy="388.9" r="1.95"/>
<circle cx="246.4" cy="392.5" r="1.95"/>
<circle cx="247.8" cy="395.0" r="1.95"/>
<circle cx="242.3" cy="395.8" r="1.95"/>
<circle cx="229.9" cy="395.3" r="1.95"/>
<circle cx="204.3" cy="396.7" r="1.95"/>
<circle cx="207.9" cy="398.0" r="1.95"/>
<circle cx="224.9" cy="409.9" r="1.95"/>
<circle cx="224.9" cy="429.7" r="1.95"/>
<circle cx="220.3" cy="432.8" r="1.95"/>
<circle cx="266.3" cy="381.5" r="1.95"/>
<circle cx="268.2" cy="382.1" r="1.95"/>
<circle cx="277.9" cy="383.4" r="1.95"/>
<circle cx="287.8" cy="380.7" r="1.95"/>
<circle cx="282.3" cy="386.7" r="1.95"/>
<circle cx="278.7" cy="387.6" r="1.95"/>
<circle cx="275.9" cy="388.9" r="1.95"/>
<circle cx="288.3" cy="387.6" r="1.95"/>
<circle cx="292.5" cy="388.1" r="1.95"/>
<circle cx="295.8" cy="387.3" r="1.95"/>
<circle cx="264.9" cy="390.9" r="1.95"/>
<circle cx="269.0" cy="390.3" r="1.95"/>
<circle cx="273.2" cy="391.7" r="1.95"/>
<circle cx="275.9" cy="392.5" r="1.95"/>
<circle cx="278.7" cy="390.9" r="1.95"/>
<circle cx="287.0" cy="391.7" r="1.95"/>
<circle cx="286.4" cy="393.9" r="1.95"/>
<circle cx="271.8" cy="397.8" r="1.95"/>
<circle cx="276.5" cy="399.1" r="1.95"/>
<circle cx="271.8" cy="404.1" r="1.95"/>
<circle cx="275.1" cy="407.4" r="1.95"/>
<circle cx="283.7" cy="408.8" r="1.95"/>
<circle cx="269.0" cy="431.7" r="1.95"/>
<circle cx="277.3" cy="427.5" r="1.95"/>
<circle cx="279.0" cy="427.0" r="1.95"/>
<circle cx="321.1" cy="412.4" r="1.95"/>
<circle cx="338.2" cy="390.9" r="1.95"/>
<circle cx="203.3" cy="365.6" r="1.95"/>
<circle cx="205.8" cy="396.4" r="1.95"/>
<circle cx="222.9" cy="409.6" r="1.95"/>
<circle cx="455.5" cy="307.5" r="1.95"/>
<circle cx="483.4" cy="308.2" r="1.95"/>
<circle cx="474.2" cy="314.8" r="1.95"/>
<circle cx="475.3" cy="316.7" r="1.95"/>
<circle cx="481.2" cy="314.8" r="1.95"/>
<circle cx="447.4" cy="318.2" r="1.95"/>
<circle cx="451.6" cy="318.5" r="1.95"/>
<circle cx="446.0" cy="322.2" r="1.95"/>
<circle cx="449.6" cy="323.6" r="1.95"/>
<circle cx="447.9" cy="326.6" r="1.95"/>
<circle cx="451.1" cy="325.8" r="1.95"/>
<circle cx="454.1" cy="328.0" r="1.95"/>
<circle cx="456.7" cy="325.1" r="1.95"/>
<circle cx="460.7" cy="326.6" r="1.95"/>
<circle cx="465.1" cy="325.8" r="1.95"/>
<circle cx="470.9" cy="322.9" r="1.95"/>
<circle cx="474.6" cy="325.1" r="1.95"/>
<circle cx="477.5" cy="325.8" r="1.95"/>
<circle cx="468.0" cy="328.0" r="1.95"/>
<circle cx="471.7" cy="329.5" r="1.95"/>
<circle cx="475.3" cy="329.5" r="1.95"/>
<circle cx="479.0" cy="329.5" r="1.95"/>
<circle cx="482.7" cy="328.0" r="1.95"/>
<circle cx="485.3" cy="328.0" r="1.95"/>
<circle cx="449.6" cy="329.5" r="1.95"/>
<circle cx="452.6" cy="330.2" r="1.95"/>
<circle cx="456.3" cy="331.0" r="1.95"/>
<circle cx="459.9" cy="331.0" r="1.95"/>
<circle cx="463.6" cy="331.7" r="1.95"/>
<circle cx="466.5" cy="332.4" r="1.95"/>
<circle cx="470.2" cy="332.4" r="1.95"/>
<circle cx="473.1" cy="333.2" r="1.95"/>
<circle cx="476.8" cy="332.4" r="1.95"/>
<circle cx="438.9" cy="332.9" r="1.95"/>
<circle cx="442.3" cy="333.9" r="1.95"/>
<circle cx="446.0" cy="334.6" r="1.95"/>
<circle cx="444.5" cy="336.1" r="1.95"/>
<circle cx="448.9" cy="333.9" r="1.95"/>
<circle cx="451.9" cy="334.6" r="1.95"/>
<circle cx="455.5" cy="334.6" r="1.95"/>
<circle cx="458.5" cy="335.4" r="1.95"/>
<circle cx="461.4" cy="334.6" r="1.95"/>
<circle cx="449.6" cy="337.6" r="1.95"/>
<circle cx="453.3" cy="338.3" r="1.95"/>
<circle cx="457.0" cy="337.6" r="1.95"/>
<circle cx="460.7" cy="336.9" r="1.95"/>
<circle cx="464.3" cy="338.8" r="1.95"/>
<circle cx="468.7" cy="338.3" r="1.95"/>
<circle cx="470.2" cy="340.5" r="1.95"/>
<circle cx="481.2" cy="334.6" r="1.95"/>
<circle cx="483.4" cy="336.9" r="1.95"/>
<circle cx="450.4" cy="340.5" r="1.95"/>
<circle cx="454.1" cy="341.3" r="1.95"/>
<circle cx="457.7" cy="340.5" r="1.95"/>
<circle cx="440.1" cy="339.8" r="1.95"/>
<circle cx="439.4" cy="342.7" r="1.95"/>
<circle cx="435.7" cy="343.5" r="1.95"/>
<circle cx="440.8" cy="345.7" r="1.95"/>
<circle cx="448.9" cy="343.5" r="1.95"/>
<circle cx="452.6" cy="345.7" r="1.95"/>
<circle cx="458.5" cy="345.7" r="1.95"/>
<circle cx="447.4" cy="347.9" r="1.95"/>
<circle cx="454.8" cy="347.9" r="1.95"/>
<circle cx="414.0" cy="335.1" r="1.95"/>
<circle cx="433.5" cy="334.6" r="1.95"/>
<circle cx="422.5" cy="343.5" r="1.95"/>
<circle cx="423.2" cy="346.4" r="1.95"/>
<circle cx="426.9" cy="347.9" r="1.95"/>
<circle cx="424.7" cy="350.1" r="1.95"/>
<circle cx="428.4" cy="350.8" r="1.95"/>
<circle cx="432.0" cy="349.3" r="1.95"/>
<circle cx="433.5" cy="346.4" r="1.95"/>
<circle cx="434.2" cy="351.5" r="1.95"/>
<circle cx="418.8" cy="353.0" r="1.95"/>
<circle cx="422.5" cy="353.0" r="1.95"/>
<circle cx="426.2" cy="353.7" r="1.95"/>
<circle cx="429.8" cy="354.5" r="1.95"/>
<circle cx="420.3" cy="355.9" r="1.95"/>
<circle cx="424.0" cy="356.7" r="1.95"/>
<circle cx="427.6" cy="356.7" r="1.95"/>
<circle cx="421.7" cy="359.2" r="1.95"/>
<circle cx="425.4" cy="359.6" r="1.95"/>
<circle cx="424.7" cy="361.8" r="1.95"/>
<circle cx="432.8" cy="353.7" r="1.95"/>
<circle cx="438.6" cy="355.9" r="1.95"/>
<circle cx="440.8" cy="352.3" r="1.95"/>
<circle cx="454.8" cy="350.8" r="1.95"/>
<circle cx="456.3" cy="354.5" r="1.95"/>
<circle cx="461.7" cy="354.0" r="1.95"/>
<circle cx="448.5" cy="359.6" r="1.95"/>
<circle cx="447.9" cy="363.3" r="1.95"/>
<circle cx="446.7" cy="367.7" r="1.95"/>
<circle cx="428.4" cy="367.0" r="1.95"/>
<circle cx="482.2" cy="344.9" r="1.95"/>
<circle cx="483.0" cy="351.5" r="1.95"/>
<circle cx="494.0" cy="358.1" r="1.95"/>
<circle cx="492.2" cy="322.2" r="1.95"/>
<circle cx="494.9" cy="321.4" r="1.95"/>
<circle cx="497.8" cy="323.6" r="1.95"/>
<circle cx="495.2" cy="325.8" r="1.95"/>
<circle cx="498.1" cy="328.0" r="1.95"/>
<circle cx="502.5" cy="331.0" r="1.95"/>
<circle cx="505.4" cy="332.4" r="1.95"/>
<circle cx="505.2" cy="335.4" r="1.95"/>
<circle cx="500.6" cy="337.6" r="1.95"/>
<circle cx="501.8" cy="339.8" r="1.95"/>
<circle cx="502.2" cy="341.3" r="1.95"/>
<circle cx="506.9" cy="342.7" r="1.95"/>
<circle cx="509.1" cy="345.7" r="1.95"/>
<circle cx="503.0" cy="350.1" r="1.95"/>
<circle cx="367.4" cy="382.6" r="1.95"/>
<circle cx="371.4" cy="384.8" r="1.95"/>
<circle cx="382.5" cy="383.8" r="1.95"/>
<circle cx="367.9" cy="402.2" r="1.95"/>
<circle cx="393.2" cy="416.1" r="1.95"/>
<circle cx="405.7" cy="407.0" r="1.95"/>
<circle cx="432.0" cy="414.2" r="1.95"/>
<circle cx="393.7" cy="378.8" r="1.95"/>
<circle cx="396.6" cy="377.8" r="1.95"/>
<circle cx="400.2" cy="373.8" r="1.95"/>
<circle cx="401.4" cy="381.2" r="1.95"/>
<circle cx="406.9" cy="380.7" r="1.95"/>
<circle cx="400.9" cy="384.3" r="1.95"/>
<circle cx="399.0" cy="387.4" r="1.95"/>
<circle cx="403.8" cy="392.7" r="1.95"/>
<circle cx="418.9" cy="379.0" r="1.95"/>
<circle cx="420.8" cy="379.5" r="1.95"/>
<circle cx="424.1" cy="374.0" r="1.95"/>
<circle cx="428.4" cy="375.9" r="1.95"/>
<circle cx="424.1" cy="385.0" r="1.95"/>
<circle cx="430.1" cy="369.9" r="1.95"/>
<circle cx="509.8" cy="367.1" r="1.95"/>
<circle cx="519.9" cy="352.0" r="1.95"/>
<circle cx="510.5" cy="381.9" r="1.95"/>
<circle cx="512.2" cy="385.5" r="1.95"/>
<circle cx="516.3" cy="387.9" r="1.95"/>
<circle cx="511.5" cy="389.1" r="1.95"/>
<circle cx="510.5" cy="392.7" r="1.95"/>
<circle cx="511.0" cy="396.3" r="1.95"/>
<circle cx="505.8" cy="397.9" r="1.95"/>
<circle cx="491.4" cy="397.0" r="1.95"/>
<circle cx="487.6" cy="411.6" r="1.95"/>
<circle cx="500.5" cy="409.4" r="1.95"/>
<circle cx="488.3" cy="431.7" r="1.95"/>
<circle cx="454.8" cy="381.9" r="1.95"/>
<circle cx="453.6" cy="385.5" r="1.95"/>
<circle cx="455.5" cy="387.2" r="1.95"/>
<circle cx="450.0" cy="388.6" r="1.95"/>
<circle cx="454.8" cy="390.3" r="1.95"/>
<circle cx="451.9" cy="392.2" r="1.95"/>
<circle cx="460.5" cy="391.2" r="1.95"/>
<circle cx="463.6" cy="379.5" r="1.95"/>
<circle cx="465.5" cy="382.6" r="1.95"/>
<circle cx="466.7" cy="387.9" r="1.95"/>
<circle cx="444.7" cy="395.8" r="1.95"/>
<circle cx="448.8" cy="396.7" r="1.95"/>
<circle cx="451.2" cy="397.5" r="1.95"/>
<circle cx="453.6" cy="399.4" r="1.95"/>
<circle cx="456.0" cy="398.7" r="1.95"/>
<circle cx="458.4" cy="397.5" r="1.95"/>
<circle cx="460.7" cy="395.8" r="1.95"/>
<circle cx="454.8" cy="402.2" r="1.95"/>
<circle cx="456.0" cy="401.0" r="1.95"/>
<circle cx="465.5" cy="398.2" r="1.95"/>
<circle cx="470.3" cy="399.6" r="1.95"/>
<circle cx="484.7" cy="285.5" r="1.95"/>
<circle cx="504.8" cy="289.1" r="1.95"/>
<circle cx="518.2" cy="288.4" r="1.95"/>
<circle cx="519.0" cy="287.2" r="1.95"/>
<circle cx="514.7" cy="325.4" r="1.95"/>
<circle cx="641.2" cy="278.1" r="1.95"/>
<circle cx="662.7" cy="286.5" r="1.95"/>
<circle cx="671.8" cy="282.6" r="1.95"/>
<circle cx="681.9" cy="280.5" r="1.95"/>
<circle cx="604.6" cy="300.8" r="1.95"/>
<circle cx="631.1" cy="297.2" r="1.95"/>
<circle cx="629.9" cy="303.7" r="1.95"/>
<circle cx="629.7" cy="308.7" r="1.95"/>
<circle cx="577.5" cy="309.0" r="1.95"/>
<circle cx="588.3" cy="309.0" r="1.95"/>
<circle cx="590.4" cy="311.4" r="1.95"/>
<circle cx="602.4" cy="308.3" r="1.95"/>
<circle cx="604.3" cy="307.1" r="1.95"/>
<circle cx="645.0" cy="310.7" r="1.95"/>
<circle cx="655.1" cy="311.4" r="1.95"/>
<circle cx="633.5" cy="311.9" r="1.95"/>
<circle cx="640.0" cy="314.2" r="1.95"/>
<circle cx="643.1" cy="314.7" r="1.95"/>
<circle cx="619.9" cy="314.2" r="1.95"/>
<circle cx="624.7" cy="314.7" r="1.95"/>
<circle cx="627.5" cy="316.6" r="1.95"/>
<circle cx="634.7" cy="316.2" r="1.95"/>
<circle cx="639.5" cy="317.1" r="1.95"/>
<circle cx="643.6" cy="317.8" r="1.95"/>
<circle cx="595.9" cy="317.8" r="1.95"/>
<circle cx="602.4" cy="316.6" r="1.95"/>
<circle cx="604.8" cy="314.7" r="1.95"/>
<circle cx="607.2" cy="315.4" r="1.95"/>
<circle cx="609.1" cy="316.6" r="1.95"/>
<circle cx="601.2" cy="320.7" r="1.95"/>
<circle cx="603.6" cy="321.9" r="1.95"/>
<circle cx="606.7" cy="322.6" r="1.95"/>
<circle cx="604.8" cy="324.5" r="1.95"/>
<circle cx="610.1" cy="325.7" r="1.95"/>
<circle cx="636.6" cy="320.9" r="1.95"/>
<circle cx="629.2" cy="322.4" r="1.95"/>
<circle cx="632.3" cy="324.5" r="1.95"/>
<circle cx="635.9" cy="325.0" r="1.95"/>
<circle cx="641.2" cy="322.6" r="1.95"/>
<circle cx="639.5" cy="327.9" r="1.95"/>
<circle cx="645.5" cy="329.1" r="1.95"/>
<circle cx="618.7" cy="325.5" r="1.95"/>
<circle cx="623.7" cy="328.6" r="1.95"/>
<circle cx="670.4" cy="319.8" r="1.95"/>
<circle cx="667.8" cy="332.0" r="1.95"/>
<circle cx="586.1" cy="326.5" r="1.95"/>
<circle cx="575.1" cy="335.6" r="1.95"/>
<circle cx="584.4" cy="338.7" r="1.95"/>
<circle cx="600.7" cy="333.4" r="1.95"/>
<circle cx="602.4" cy="334.6" r="1.95"/>
<circle cx="607.2" cy="337.0" r="1.95"/>
<circle cx="611.5" cy="337.0" r="1.95"/>
<circle cx="607.7" cy="339.4" r="1.95"/>
<circle cx="594.7" cy="342.5" r="1.95"/>
<circle cx="588.8" cy="343.7" r="1.95"/>
<circle cx="604.8" cy="344.2" r="1.95"/>
<circle cx="608.4" cy="343.5" r="1.95"/>
<circle cx="610.1" cy="346.6" r="1.95"/>
<circle cx="633.8" cy="340.8" r="1.95"/>
<circle cx="646.9" cy="334.8" r="1.95"/>
<circle cx="593.5" cy="349.9" r="1.95"/>
<circle cx="597.8" cy="353.3" r="1.95"/>
<circle cx="622.5" cy="350.9" r="1.95"/>
<circle cx="577.0" cy="355.7" r="1.95"/>
<circle cx="649.1" cy="356.1" r="1.95"/>
<circle cx="658.4" cy="357.6" r="1.95"/>
<circle cx="680.7" cy="352.8" r="1.95"/>
<circle cx="610.1" cy="365.5" r="1.95"/>
<circle cx="646.0" cy="366.7" r="1.95"/>
<circle cx="657.0" cy="371.0" r="1.95"/>
<circle cx="612.5" cy="378.5" r="1.95"/>
<circle cx="622.2" cy="375.6" r="1.95"/>
<circle cx="645.3" cy="374.1" r="1.95"/>
<circle cx="650.9" cy="378.5" r="1.95"/>
<circle cx="657.5" cy="393.9" r="1.95"/>
<circle cx="672.1" cy="399.0" r="1.95"/>
<circle cx="624.8" cy="413.8" r="1.95"/>
<circle cx="618.8" cy="431.5" r="1.95"/>
<circle cx="115.3" cy="89.4" r="1.95"/>
<circle cx="116.7" cy="90.8" r="1.95"/>
<circle cx="117.3" cy="76.6" r="1.95"/>
<circle cx="114.5" cy="81.4" r="1.95"/>
<circle cx="121.8" cy="86.7" r="1.95"/>
<circle cx="120.4" cy="87.0" r="1.95"/>
<circle cx="117.7" cy="78.8" r="1.95"/>
<circle cx="119.9" cy="97.4" r="1.95"/>
<circle cx="118.5" cy="94.2" r="1.95"/>
<circle cx="117.7" cy="76.6" r="1.95"/>
<circle cx="120.1" cy="90.1" r="1.95"/>
<circle cx="120.7" cy="86.9" r="1.95"/>
<circle cx="120.6" cy="97.5" r="1.95"/>
<circle cx="120.7" cy="98.6" r="1.95"/>
<circle cx="117.5" cy="95.9" r="1.95"/>
<circle cx="118.4" cy="99.3" r="1.95"/>
<circle cx="102.3" cy="108.8" r="1.95"/>
<circle cx="107.3" cy="110.1" r="1.95"/>
<circle cx="105.3" cy="109.3" r="1.95"/>
<circle cx="104.5" cy="109.8" r="1.95"/>
<circle cx="103.6" cy="111.0" r="1.95"/>
<circle cx="421.1" cy="111.0" r="1.95"/>
<circle cx="422.2" cy="112.0" r="1.95"/>
<circle cx="419.6" cy="81.4" r="1.95"/>
<circle cx="423.3" cy="97.4" r="1.95"/>
<circle cx="420.2" cy="83.3" r="1.95"/>
<circle cx="422.5" cy="97.7" r="1.95"/>
<circle cx="415.5" cy="77.8" r="1.95"/>
<circle cx="417.0" cy="81.1" r="1.95"/>
<circle cx="417.8" cy="105.9" r="1.95"/>
<circle cx="418.7" cy="76.8" r="1.95"/>
<circle cx="420.6" cy="88.1" r="1.95"/>
<circle cx="420.6" cy="114.9" r="1.95"/>
<circle cx="415.8" cy="78.3" r="1.95"/>
<circle cx="418.5" cy="76.2" r="1.95"/>
<circle cx="415.7" cy="91.6" r="1.95"/>
<circle cx="419.0" cy="81.2" r="1.95"/>
<circle cx="418.6" cy="113.4" r="1.95"/>
<circle cx="422.6" cy="89.8" r="1.95"/>
<circle cx="420.6" cy="140.9" r="1.95"/>
<circle cx="423.1" cy="144.0" r="1.95"/>
<circle cx="422.2" cy="145.2" r="1.95"/>
<circle cx="426.3" cy="139.8" r="1.95"/>
<circle cx="421.1" cy="149.7" r="1.95"/>
<circle cx="417.0" cy="131.6" r="1.95"/>
<circle cx="426.8" cy="140.4" r="1.95"/>
<circle cx="419.4" cy="118.6" r="1.95"/>
<circle cx="420.3" cy="143.6" r="1.95"/>
<circle cx="415.8" cy="145.6" r="1.95"/>
<circle cx="420.6" cy="120.6" r="1.95"/>
<circle cx="422.4" cy="138.4" r="1.95"/>
<circle cx="422.5" cy="133.3" r="1.95"/>
<circle cx="424.5" cy="150.2" r="1.95"/>
<circle cx="425.1" cy="160.1" r="1.95"/>
<circle cx="417.8" cy="138.4" r="1.95"/>
<circle cx="421.3" cy="132.0" r="1.95"/>
<circle cx="418.6" cy="132.0" r="1.95"/>
<circle cx="419.9" cy="144.3" r="1.95"/>
<circle cx="418.1" cy="134.9" r="1.95"/>
<circle cx="422.9" cy="150.2" r="1.95"/>
<circle cx="417.5" cy="128.1" r="1.95"/>
<circle cx="423.5" cy="128.2" r="1.95"/>
<circle cx="417.0" cy="137.5" r="1.95"/>
<circle cx="421.6" cy="122.3" r="1.95"/>
<circle cx="418.1" cy="132.9" r="1.95"/>
<circle cx="278.9" cy="345.9" r="1.95"/>
<circle cx="279.7" cy="342.5" r="1.95"/>
<circle cx="267.7" cy="347.6" r="1.95"/>
<circle cx="280.0" cy="346.2" r="1.95"/>
<circle cx="266.0" cy="340.5" r="1.95"/>
<circle cx="272.5" cy="342.1" r="1.95"/>
<circle cx="277.8" cy="351.1" r="1.95"/>
<circle cx="264.9" cy="342.4" r="1.95"/>
<circle cx="278.0" cy="348.5" r="1.95"/>
<circle cx="278.4" cy="344.7" r="1.95"/>
<circle cx="263.7" cy="342.5" r="1.95"/>
<circle cx="278.2" cy="343.7" r="1.95"/>
<circle cx="268.2" cy="344.6" r="1.95"/>
<circle cx="269.9" cy="344.7" r="1.95"/>
<circle cx="206.6" cy="332.6" r="1.95"/>
<circle cx="210.9" cy="331.5" r="1.95"/>
<circle cx="209.8" cy="328.7" r="1.95"/>
<circle cx="204.5" cy="327.1" r="1.95"/>
<circle cx="208.7" cy="326.6" r="1.95"/>
<circle cx="213.2" cy="330.2" r="1.95"/>
<circle cx="213.1" cy="329.2" r="1.95"/>
<circle cx="202.9" cy="326.7" r="1.95"/>
<circle cx="209.8" cy="328.7" r="1.95"/>
<circle cx="206.3" cy="332.5" r="1.95"/>
<circle cx="454.1" cy="328.7" r="1.95"/>
<circle cx="447.4" cy="336.2" r="1.95"/>
<circle cx="452.3" cy="333.9" r="1.95"/>
<circle cx="447.7" cy="329.2" r="1.95"/>
<circle cx="453.7" cy="333.8" r="1.95"/>
<circle cx="445.3" cy="336.1" r="1.95"/>
<circle cx="456.0" cy="333.6" r="1.95"/>
<circle cx="446.8" cy="332.9" r="1.95"/>
<circle cx="450.2" cy="331.3" r="1.95"/>
<circle cx="442.5" cy="334.0" r="1.95"/>
<circle cx="447.2" cy="330.5" r="1.95"/>
<circle cx="449.0" cy="333.5" r="1.95"/>
<circle cx="453.6" cy="329.1" r="1.95"/>
<circle cx="444.4" cy="331.6" r="1.95"/>
<circle cx="443.5" cy="334.2" r="1.95"/>
<circle cx="456.6" cy="328.3" r="1.95"/>
<circle cx="449.4" cy="332.9" r="1.95"/>
<circle cx="458.1" cy="327.9" r="1.95"/>
<circle cx="448.7" cy="339.2" r="1.95"/>
<circle cx="447.4" cy="333.9" r="1.95"/>
<circle cx="445.4" cy="338.8" r="1.95"/>
<circle cx="444.8" cy="338.3" r="1.95"/>
<circle cx="448.6" cy="332.2" r="1.95"/>
<circle cx="445.8" cy="338.9" r="1.95"/>
<circle cx="443.8" cy="332.9" r="1.95"/>
<circle cx="443.4" cy="341.0" r="1.95"/>
<circle cx="427.7" cy="352.1" r="1.95"/>
<circle cx="427.3" cy="356.7" r="1.95"/>
<circle cx="419.6" cy="353.1" r="1.95"/>
<circle cx="418.0" cy="356.9" r="1.95"/>
<circle cx="424.4" cy="357.8" r="1.95"/>
<circle cx="426.0" cy="355.3" r="1.95"/>
<circle cx="425.3" cy="354.2" r="1.95"/>
<circle cx="417.7" cy="354.5" r="1.95"/>
<circle cx="427.1" cy="350.0" r="1.95"/>
<circle cx="424.6" cy="357.2" r="1.95"/>
<circle cx="427.9" cy="354.4" r="1.95"/>
<circle cx="425.7" cy="353.6" r="1.95"/>
<circle cx="94.7" cy="342.3" r="1.95"/>
<circle cx="89.5" cy="344.9" r="1.95"/>
<circle cx="93.5" cy="350.9" r="1.95"/>
<circle cx="90.9" cy="343.2" r="1.95"/>
</g>
<path d="M109.8,5.0 C110.4,10.8 111.6,25.8 113.2,40.0 C114.8,54.2 117.7,75.0 119.6,90.0 C121.5,105.0 123.1,117.7 124.8,130.0 C126.5,142.3 127.4,144.1 129.9,164.0 C132.4,183.9 138.3,235.2 140.0,249.5" fill="none" stroke="#d7263f" stroke-width="0.95"/>
<path d="M273.8,5.0 C273.4,20.8 272.3,72.5 271.7,100.0 C271.1,127.5 270.9,145.2 270.0,170.0 C269.1,194.8 266.9,235.8 266.3,249.0" fill="none" stroke="#d7263f" stroke-width="0.95"/>
<path d="M410.3,8.6 C410.9,15.5 412.4,33.1 414.1,50.0 C415.8,66.9 418.0,87.7 420.4,110.0 C422.8,132.3 425.4,160.5 428.2,184.0 C431.0,207.5 435.6,239.8 437.1,251.0" fill="none" stroke="#d7263f" stroke-width="0.95"/>
<path d="M605.3,5.0 C605.1,20.8 604.4,72.5 603.9,100.0 C603.4,127.5 602.9,145.1 602.0,170.0 C601.1,194.9 599.3,236.2 598.8,249.5" fill="none" stroke="#d7263f" stroke-width="0.95"/>
<path d="M157.5,252.0 C152.8,261.7 141.4,288.0 129.0,310.0 C116.5,332.0 96.4,362.8 82.8,384.0 C69.2,405.2 53.1,428.2 47.2,437.1" fill="none" stroke="#d7263f" stroke-width="0.95"/>
<path d="M329.0,252.0 C325.8,260.0 315.3,287.7 309.9,300.0 C304.5,312.3 302.1,316.2 296.7,326.0 C291.3,335.8 282.4,351.0 277.5,359.0 C272.6,367.0 276.6,360.8 267.3,374.0 C258.0,387.2 229.2,427.5 221.6,438.2" fill="none" stroke="#d7263f" stroke-width="0.95"/>
<path d="M490.7,252.0 C488.1,259.2 481.5,280.3 475.3,295.0 C469.1,309.7 460.1,327.7 453.6,340.0 C447.1,352.3 441.4,361.4 436.4,369.0 C431.4,376.6 428.7,379.0 423.6,385.5 C418.5,392.0 413.4,398.9 405.7,408.2 C398.0,417.4 382.1,435.5 377.4,441.0" fill="none" stroke="#d7263f" stroke-width="0.95"/>
<path d="M646.0,252.0 C642.7,260.6 632.6,288.1 626.3,303.5 C620.0,318.9 616.0,330.5 608.4,344.2 C600.8,357.9 590.2,373.0 580.9,385.7 C571.6,398.4 560.5,411.2 552.5,420.4 C544.5,429.6 536.2,437.5 533.0,440.9" fill="none" stroke="#d7263f" stroke-width="0.95"/>
<line x1="271.4" y1="110.6" x2="309.5" y2="135.8" stroke="#f3e53b" stroke-width="1"/>
<line x1="430.7" y1="125.4" x2="473.6" y2="140.7" stroke="#f3e53b" stroke-width="1"/>
<line x1="133.4" y1="349.9" x2="158.6" y2="362.9" stroke="#f3e53b" stroke-width="1"/>
<line x1="305.2" y1="291.9" x2="329.2" y2="292.2" stroke="#f3e53b" stroke-width="1"/>
<line x1="223.2" y1="313.6" x2="242.7" y2="331.7" stroke="#f3e53b" stroke-width="1"/>
<line x1="266.2" y1="332.3" x2="294.2" y2="354.6" stroke="#f3e53b" stroke-width="1"/>
<polygon points="271.40,102.30 273.42,108.12 279.58,108.24 274.67,111.96 276.45,117.86 271.40,114.34 266.35,117.86 268.13,111.96 263.22,108.24 269.38,108.12" fill="#fff100" stroke="#2b2424" stroke-width="0.9" stroke-linejoin="miter"/>
<polygon points="430.70,120.40 431.92,123.92 435.65,123.99 432.68,126.24 433.76,129.81 430.70,127.68 427.64,129.81 428.72,126.24 425.75,123.99 429.48,123.92" fill="#ad4a88" stroke="#2b2424" stroke-width="0.8" stroke-linejoin="miter"/>
<polygon points="133.40,344.90 134.62,348.42 138.35,348.49 135.38,350.74 136.46,354.31 133.40,352.18 130.34,354.31 131.42,350.74 128.45,348.49 132.18,348.42" fill="#ad4a88" stroke="#2b2424" stroke-width="0.8" stroke-linejoin="miter"/>
<polygon points="305.20,286.70 306.47,290.35 310.34,290.43 307.25,292.77 308.37,296.47 305.20,294.26 302.03,296.47 303.15,292.77 300.06,290.43 303.93,290.35" fill="#ad4a88" stroke="#2b2424" stroke-width="0.8" stroke-linejoin="miter"/>
<polygon points="242.70,326.50 243.97,330.15 247.84,330.23 244.75,332.57 245.87,336.27 242.70,334.06 239.53,336.27 240.65,332.57 237.56,330.23 241.43,330.15" fill="#ad4a88" stroke="#2b2424" stroke-width="0.8" stroke-linejoin="miter"/>
<polygon points="266.20,327.10 267.47,330.75 271.34,330.83 268.25,333.17 269.37,336.87 266.20,334.66 263.03,336.87 264.15,333.17 261.06,330.83 264.93,330.75" fill="#ad4a88" stroke="#2b2424" stroke-width="0.8" stroke-linejoin="miter"/>
<clipPath id="bb1"><circle cx="324.8" cy="145.2" r="17.7"/></clipPath>
<circle cx="324.8" cy="145.2" r="17.7" fill="#fff"/>
<g clip-path="url(#bb1)" fill="#e5202d">
<path d="M325.7,127.7 Q325.3,145 323.2,162.7 L323,165 L305,165 L305,125 L325.75,125 Z"/>
</g>
<circle cx="324.8" cy="145.2" r="17.7" fill="none" stroke="#e0222f" stroke-width="0.9"/>
<clipPath id="bb2"><circle cx="485" cy="144.7" r="11.75"/></clipPath>
<circle cx="485" cy="144.7" r="11.75" fill="#fff"/>
<g clip-path="url(#bb2)" fill="#ad4a88">
<path d="M481.7,133.4 Q488.4,142 489,155.7 L489.1,158 L472,158 L472,131 L480.5,131 Z"/>
</g>
<circle cx="485" cy="144.7" r="11.75" fill="none" stroke="#ad4a88" stroke-width="0.5"/>
<clipPath id="bb3"><circle cx="172.6" cy="367.9" r="14.5"/></clipPath>
<circle cx="172.6" cy="367.9" r="14.5" fill="#fff"/>
<g clip-path="url(#bb3)" fill="#2e2625">
<path d="M162.9,370.2 Q165.8,358.8 177.7,354.4 L179,351 L192,351 L192,376 L187.5,374.3 L186,373.7 Q175,377 162.9,370.2 Z"/>
<path d="M162.9,370.2 Q160,368.8 158.1,366.7 L155,366 L155,384 L163,384 L162.9,378.7 Q163.8,374 162.9,370.2 Z"/>
</g>
<circle cx="172.6" cy="367.9" r="14.5" fill="none" stroke="#4a4444" stroke-width="0.5"/>
<clipPath id="bb4"><circle cx="213.5" cy="304.2" r="13.6"/></clipPath>
<circle cx="213.5" cy="304.2" r="13.6" fill="#fff"/>
<g clip-path="url(#bb4)" fill="#2e2625">
<path d="M207,298.4 Q209.8,292.6 217.3,291.2 L218.5,288 L230,288 L230,316.2 L226.7,313.6 Z"/>
<path d="M202.2,296.7 L205.9,299 Q201.8,306 203.3,313.3 L203.8,318 L197,318 L197,294 L198.5,294.4 Z"/>
</g>
<circle cx="213.5" cy="304.2" r="13.6" fill="none" stroke="#4a4444" stroke-width="0.5"/>
<clipPath id="bb5"><circle cx="339.1" cy="292.1" r="10.05"/></clipPath>
<circle cx="339.1" cy="292.1" r="10.05" fill="#fff"/>
<g clip-path="url(#bb5)" fill="#ad4a88">
<path d="M335.2,292.4 Q340.3,287.6 345.8,284.6 L349,282.3 L352,282 L352,302 L349.8,300.5 L346.7,298.8 Q340.2,296.4 335.2,292.4 Z"/>
<path d="M335.2,292.4 Q332.5,289.8 330.8,286.6 L329,284.3 L326,284 L326,302 L330.3,301.4 L331.7,298.8 Q333,295.5 335.2,292.4 Z"/>
</g>
<circle cx="339.1" cy="292.1" r="10.05" fill="none" stroke="#ad4a88" stroke-width="0.5"/>
<clipPath id="bb6"><circle cx="305.55" cy="360.4" r="13.4"/></clipPath>
<circle cx="305.55" cy="360.4" r="13.4" fill="#fff"/>
<g clip-path="url(#bb6)" fill="#ad4a88">
<path d="M299.7,354.7 Q304,350 312.3,348.9 L315.6,348.5 L322,347.5 L322,373 L318.8,371.7 L315.6,368.9 Z"/>
<path d="M299.7,354.7 L295.05,351.9 L292.7,350.5 L290,350 L290,373 L295.5,373 L295.4,369.2 Q295,361 299.7,354.7 Z"/>
</g>
<circle cx="305.55" cy="360.4" r="13.4" fill="none" stroke="#ad4a88" stroke-width="0.5"/>
<g stroke-linecap="butt">
<line x1="26" y1="5.0" x2="685" y2="5.0" stroke="#8a8888" stroke-width="1.3"/>
<line x1="26" y1="251.95" x2="685" y2="251.95" stroke="#8a8888" stroke-width="1.3"/>
<line x1="26" y1="499.0" x2="685" y2="499.0" stroke="#8a8888" stroke-width="1.3"/>
<line x1="33.6" y1="5.0" x2="33.6" y2="499.0" stroke="#4a4544" stroke-width="1"/>
<line x1="196.3" y1="5.0" x2="196.3" y2="499.0" stroke="#8a8888" stroke-width="1.5"/>
<line x1="359.2" y1="5.0" x2="359.2" y2="499.0" stroke="#8a8888" stroke-width="1.5"/>
<line x1="521.6" y1="5.0" x2="521.6" y2="499.0" stroke="#4a4544" stroke-width="1.1"/>
<line x1="684.3" y1="5.0" x2="684.3" y2="499.0" stroke="#4a4544" stroke-width="1.1"/>
<line x1="25.8" y1="85.5" x2="33.6" y2="85.5" stroke="#4a4544" stroke-width="0.8"/>
<line x1="25.8" y1="167.5" x2="33.6" y2="167.5" stroke="#4a4544" stroke-width="0.8"/>
<line x1="25.8" y1="332.2" x2="33.6" y2="332.2" stroke="#4a4544" stroke-width="0.8"/>
<line x1="25.8" y1="415.7" x2="33.6" y2="415.7" stroke="#4a4544" stroke-width="0.8"/>
</g>
<g fill="#332c2b" font-size="14" text-anchor="end">
<text x="23.6" y="10.0">0</text>
<text x="23.6" y="90.3">5</text>
<text x="23.6" y="172.4">10</text>
<text x="23.6" y="250.8">15</text>
<text x="23.6" y="262.5">0</text>
<text x="23.6" y="337">5</text>
<text x="23.6" y="420.6">10</text>
<text x="23.6" y="504.2">15</text>
</g>
<text transform="translate(10.4,152.8) rotate(-90)" font-size="14.5" letter-spacing="0.2" fill="#332c2b">Depth/km</text>
<text transform="translate(10.4,404.4) rotate(-90)" font-size="14.5" letter-spacing="0.2" fill="#332c2b">Depth/km</text>
<g fill="#332c2b" font-size="11.3" letter-spacing="0.25">
<text x="39.8" y="17.5">SW</text>
<text x="188.4" y="17.5" text-anchor="end">NE</text>
<text x="200.2" y="17.5">SW</text>
<text x="354.3" y="17.5" text-anchor="end">NE</text>
<text x="364.2" y="17.5">SW</text>
<text x="512.9" y="17.5" text-anchor="end">NE</text>
<text x="525.2" y="17.5">SW</text>
<text x="679.0" y="17.5" text-anchor="end">NE</text>
<text x="33.8" y="266.2">SW</text>
<text x="188.4" y="266.2" text-anchor="end">NE</text>
<text x="196.3" y="266.2">SW</text>
<text x="354.2" y="266.2" text-anchor="end">NE</text>
<text x="376.5" y="266.2">SW</text>
<text x="516.0" y="266.2" text-anchor="end">NE</text>
<text x="525.0" y="266.2">SW</text>
<text x="678.6" y="266.2" text-anchor="end">NE</text>
<text x="41.300000000000004" y="245.4" word-spacing="-0.6" xml:space="preserve">(a)  Line 1</text>
<text x="204.0" y="245.4" word-spacing="-0.6" xml:space="preserve">(b)  Line 2</text>
<text x="366.9" y="245.4" word-spacing="-0.6" xml:space="preserve">(c)  Line 3</text>
<text x="529.3000000000001" y="245.4" word-spacing="-0.6" xml:space="preserve">(d)  Line 4</text>
<text x="41.300000000000004" y="491.3" word-spacing="-0.6" xml:space="preserve">(e)  Line 5</text>
<text x="204.0" y="491.3" word-spacing="-0.6" xml:space="preserve">(f)  Line 6</text>
<text x="366.9" y="491.3" word-spacing="-0.6" xml:space="preserve">(g)  Line 7</text>
<text x="529.3000000000001" y="491.3" word-spacing="-0.6" xml:space="preserve">(h)  Line 8</text>
</g>
<rect x="129.5" y="243.79999999999998" width="24.75" height="2.8" fill="#fff" stroke="#9a9797" stroke-width="0.5"/>
<rect x="154.25" y="243.7" width="24.75" height="3" fill="#2b2423"/>
<text x="130.0" y="241.6" font-size="11.3" fill="#332c2b" text-anchor="middle">0</text>
<text x="173" y="241.6" font-size="11.3" fill="#332c2b" letter-spacing="0.3">3km</text>
<rect x="290.5" y="243.79999999999998" width="24.75" height="2.8" fill="#fff" stroke="#9a9797" stroke-width="0.5"/>
<rect x="315.25" y="243.7" width="24.75" height="3" fill="#2b2423"/>
<text x="291.0" y="241.6" font-size="11.3" fill="#332c2b" text-anchor="middle">0</text>
<text x="334" y="241.6" font-size="11.3" fill="#332c2b" letter-spacing="0.3">3km</text>
<rect x="454" y="243.79999999999998" width="24.69999999999999" height="2.8" fill="#fff" stroke="#9a9797" stroke-width="0.5"/>
<rect x="478.7" y="243.7" width="24.69999999999999" height="3" fill="#2b2423"/>
<text x="454.5" y="241.6" font-size="11.3" fill="#332c2b" text-anchor="middle">0</text>
<text x="497.4" y="241.6" font-size="11.3" fill="#332c2b" letter-spacing="0.3">3km</text>
<rect x="617.5" y="243.79999999999998" width="24.549999999999955" height="2.8" fill="#fff" stroke="#9a9797" stroke-width="0.5"/>
<rect x="642.05" y="243.7" width="24.550000000000068" height="3" fill="#2b2423"/>
<text x="618.0" y="241.6" font-size="11.3" fill="#332c2b" text-anchor="middle">0</text>
<text x="660.6" y="241.6" font-size="11.3" fill="#332c2b" letter-spacing="0.3">3km</text>
<rect x="129.2" y="490.1" width="24.900000000000006" height="2.8" fill="#fff" stroke="#9a9797" stroke-width="0.5"/>
<rect x="154.1" y="490.0" width="24.900000000000006" height="3" fill="#2b2423"/>
<text x="129.7" y="487.9" font-size="11.3" fill="#332c2b" text-anchor="middle">0</text>
<text x="173" y="487.9" font-size="11.3" fill="#332c2b" letter-spacing="0.3">3km</text>
<rect x="290.5" y="490.1" width="24.850000000000023" height="2.8" fill="#fff" stroke="#9a9797" stroke-width="0.5"/>
<rect x="315.35" y="490.0" width="24.849999999999966" height="3" fill="#2b2423"/>
<text x="291.0" y="487.9" font-size="11.3" fill="#332c2b" text-anchor="middle">0</text>
<text x="334.2" y="487.9" font-size="11.3" fill="#332c2b" letter-spacing="0.3">3km</text>
<rect x="454" y="490.1" width="24.69999999999999" height="2.8" fill="#fff" stroke="#9a9797" stroke-width="0.5"/>
<rect x="478.7" y="490.0" width="24.69999999999999" height="3" fill="#2b2423"/>
<text x="454.5" y="487.9" font-size="11.3" fill="#332c2b" text-anchor="middle">0</text>
<text x="497.4" y="487.9" font-size="11.3" fill="#332c2b" letter-spacing="0.3">3km</text>
<rect x="617.3" y="490.1" width="24.850000000000023" height="2.8" fill="#fff" stroke="#9a9797" stroke-width="0.5"/>
<rect x="642.15" y="490.0" width="24.850000000000023" height="3" fill="#2b2423"/>
<text x="617.8" y="487.9" font-size="11.3" fill="#332c2b" text-anchor="middle">0</text>
<text x="661" y="487.9" font-size="11.3" fill="#332c2b" letter-spacing="0.3">3km</text>
<text x="92.3" y="23.6" font-size="17.3" fill="#d7263f" >f<tspan font-size="8.3" dx="0.5" dy="3.2">1</tspan></text>
<text x="253.6" y="23.6" font-size="17.3" fill="#d7263f" >f<tspan font-size="8.3" dx="0.5" dy="3.2">1</tspan></text>
<text x="420.9" y="23.6" font-size="17.3" fill="#d7263f" >f<tspan font-size="8.3" dx="0.5" dy="3.2">1</tspan></text>
<text x="617.4" y="23.6" font-size="17.3" fill="#d7263f" >f<tspan font-size="8.3" dx="0.5" dy="3.2">2</tspan></text>
<text x="131.2" y="268" font-size="17.3" fill="#d7263f" >f<tspan font-size="8.3" dx="0.5" dy="3.2">3</tspan></text>
<text x="301.3" y="268" font-size="17.3" fill="#d7263f" >f<tspan font-size="8.3" dx="0.5" dy="3.2">3</tspan></text>
<text x="469" y="268" font-size="17.3" fill="#d7263f" >f<tspan font-size="8.3" dx="0.5" dy="3.2">4</tspan></text>
<text x="623.3" y="268" font-size="17.3" fill="#d7263f" >f<tspan font-size="8.3" dx="0.5" dy="3.2">4</tspan></text>
<text x="294.2" y="179.4" font-size="14" fill="#332c2b" letter-spacing="0.3"><tspan font-style="italic">M</tspan><tspan font-size="7" dy="2">w</tspan><tspan dy="-2">6.6</tspan></text>
<text x="275.8" y="194.8" font-size="14" fill="#332c2b" letter-spacing="0.5">2022.09.05</text>
</svg>
</body></html>
